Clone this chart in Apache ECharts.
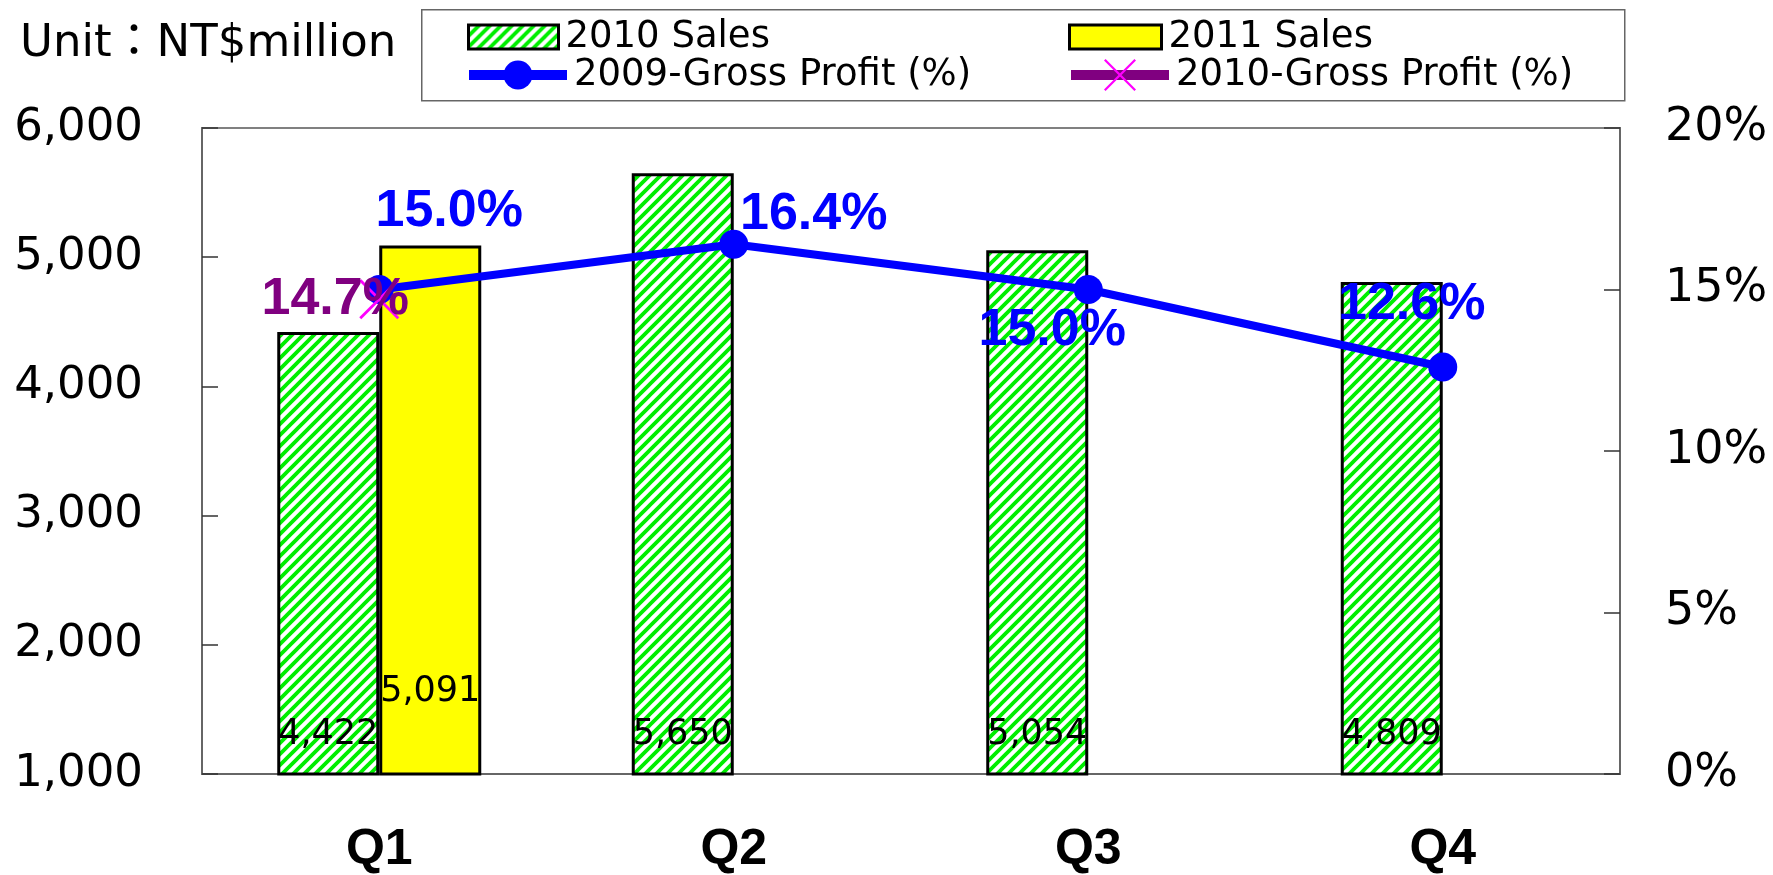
<!DOCTYPE html>
<html>
<head>
<meta charset="utf-8">
<script src="https://cdn.jsdelivr.net/npm/echarts@6/dist/echarts.min.js"></script>
<style>
html,body{margin:0;padding:0;background:#fff;}
#chart{width:1773px;height:875px;}
</style>
</head>
<body>
<div id="chart"></div>
<script>
// ---- data ----
const categories = ['Q1', 'Q2', 'Q3', 'Q4'];
const sales2010 = [4422, 5650, 5054, 4809];
const sales2011 = [5091, null, null, null];
const gp2009 = [15.0, 16.4, 15.0, 12.6];
const gp2010 = [14.7, null, null, null];
const leftAxisTicks = [1000, 2000, 3000, 4000, 5000, 6000];
const rightAxisTicks = [0, 5, 10, 15, 20];
const seriesNames = ['2010 Sales', '2011 Sales', '2009-Gross Profit (%)', '2010-Gross Profit (%)'];

// ---- layout / style constants ----
const gp2009LabelOffsets = [[70, -78], [80, -30], [-36, 41], [-31, -62]];
const gp2010LabelOffsets = [[-44, 0], [0, 0], [0, 0], [0, 0]];
const FONT = '"DejaVu Sans", "Noto Sans CJK TC", sans-serif';
const BOLD_FONT = '"Liberation Sans", Arial, sans-serif';

// hatch pattern
function makeHatch() {
  const s = 11;
  const c = document.createElement('canvas');
  c.width = s; c.height = s;
  const ctx = c.getContext('2d');
  ctx.fillStyle = '#ffffff';
  ctx.fillRect(0, 0, s, s);
  ctx.strokeStyle = '#00ee00';
  ctx.lineWidth = 3.8;
  ctx.beginPath();
  ctx.moveTo(0, s); ctx.lineTo(s, 0);
  ctx.moveTo(-s / 2, s / 2); ctx.lineTo(s / 2, -s / 2);
  ctx.moveTo(s / 2, 3 * s / 2); ctx.lineTo(3 * s / 2, s / 2);
  ctx.stroke();
  return c;
}
const hatch = { image: makeHatch(), repeat: 'repeat' };
const xSymbol = 'path://M0,5 L5,0 L100,95 L95,100 Z M95,0 L100,5 L5,100 L0,95 Z';

const chart = echarts.init(document.getElementById('chart'), null, { renderer: 'canvas' });

const legendText = { fontSize: 37, color: '#000', fontFamily: FONT, lineHeight: 40, padding: [0, 0, 0, 2] };

const option = {
  backgroundColor: '#ffffff',
  animation: false,
  title: {
    text: 'Unit：NT$million',
    left: 20, top: 19, padding: 0,
    textStyle: { fontSize: 45, lineHeight: 50, fontWeight: 'normal', color: '#000', fontFamily: FONT }
  },
  graphic: [{
    type: 'rect', left: 421, top: 9, z: -1,
    shape: { width: 1203, height: 91 },
    style: { fill: '#fff', stroke: '#666', lineWidth: 1.5 }
  }],
  legend: [
    { data: [seriesNames[0]], left: 467, top: 17, padding: 0, itemWidth: 90, itemHeight: 24, icon: 'rect',
      itemStyle: { borderColor: '#000', borderWidth: 3 }, textStyle: legendText },
    { data: [seriesNames[2]], left: 464, top: 55, padding: 0, itemWidth: 98, itemHeight: 36,
      lineStyle: { width: 10 }, textStyle: legendText },
    { data: [seriesNames[1]], left: 1068, top: 17, padding: 0, itemWidth: 92, itemHeight: 24, icon: 'rect',
      itemStyle: { borderColor: '#000', borderWidth: 3 }, textStyle: legendText },
    { data: [seriesNames[3]], left: 1066, top: 55, padding: 0, itemWidth: 98, itemHeight: 40,
      lineStyle: { width: 10 }, textStyle: legendText }
  ],
  grid: {
    left: 202, right: 153, top: 128, bottom: 94,
    show: true, borderColor: '#808080', borderWidth: 2, backgroundColor: 'transparent'
  },
  xAxis: {
    type: 'category',
    data: categories,
    axisLine: { lineStyle: { color: '#666', width: 2 } },
    axisTick: { inside: true, length: 14, lineStyle: { color: '#666', width: 1.5 } },
    axisLabel: { fontSize: 50, fontWeight: 'bold', color: '#000', fontFamily: BOLD_FONT, margin: 51 }
  },
  yAxis: [
    {
      type: 'value', min: leftAxisTicks[0], max: leftAxisTicks[leftAxisTicks.length - 1], interval: 1000,
      position: 'left',
      axisLine: { show: true, lineStyle: { color: '#666', width: 2 } },
      axisTick: { show: true, inside: true, length: 16, lineStyle: { color: '#333', width: 1.5 } },
      splitLine: { show: false },
      axisLabel: {
        fontSize: 45, color: '#000', fontFamily: FONT, margin: 59,
        formatter: v => v.toLocaleString('en-US')
      }
    },
    {
      type: 'value', min: rightAxisTicks[0], max: rightAxisTicks[rightAxisTicks.length - 1], interval: 5,
      position: 'right',
      axisLine: { show: true, lineStyle: { color: '#666', width: 2 } },
      axisTick: { show: true, inside: true, length: 16, lineStyle: { color: '#333', width: 1.5 } },
      splitLine: { show: false },
      axisLabel: { fontSize: 46, color: '#000', fontFamily: FONT, margin: 45, formatter: '{value}%' }
    }
  ],
  series: [
    {
      name: seriesNames[0], type: 'bar', yAxisIndex: 0,
      data: sales2010, barWidth: 102, barGap: '0%',
      itemStyle: { color: hatch, borderColor: '#000', borderWidth: 3 },
      label: {
        show: true, position: 'insideBottom', distance: 23,
        fontSize: 35, lineHeight: 36, color: '#000', fontFamily: FONT,
        formatter: p => p.value.toLocaleString('en-US')
      }
    },
    {
      name: seriesNames[1], type: 'bar', yAxisIndex: 0,
      data: sales2011, barWidth: 102, barGap: '0%',
      itemStyle: { color: '#ffff00', borderColor: '#000', borderWidth: 3 },
      label: {
        show: true, position: 'insideBottom', distance: 66,
        fontSize: 35, lineHeight: 36, color: '#000', fontFamily: FONT,
        formatter: p => p.value == null ? '' : p.value.toLocaleString('en-US')
      }
    },
    {
      name: seriesNames[2], type: 'line', yAxisIndex: 1,
      data: gp2009.map((v, i) => ({ value: v, label: { offset: gp2009LabelOffsets[i] } })),
      symbol: 'circle', symbolSize: 29,
      lineStyle: { color: '#0000ff', width: 8 },
      itemStyle: { color: '#0000ff' },
      label: {
        show: true, position: 'inside', fontSize: 52, fontWeight: 'bold', color: '#0000ff', fontFamily: BOLD_FONT,
        formatter: p => p.value.toFixed(1) + '%'
      },
      z: 5
    },
    {
      name: seriesNames[3], type: 'line', yAxisIndex: 1,
      data: gp2010.map((v, i) => ({ value: v, label: { offset: gp2010LabelOffsets[i] } })),
      symbol: xSymbol, symbolSize: 40,
      lineStyle: { color: '#800080', width: 8 },
      itemStyle: { color: '#ff00ff' },
      label: {
        show: true, position: 'inside', fontSize: 52, fontWeight: 'bold', color: '#800080', fontFamily: BOLD_FONT,
        formatter: p => p.value == null ? '' : p.value.toFixed(1) + '%'
      },
      z: 6
    }
  ]
};
chart.setOption(option);
</script>
</body>
</html>
